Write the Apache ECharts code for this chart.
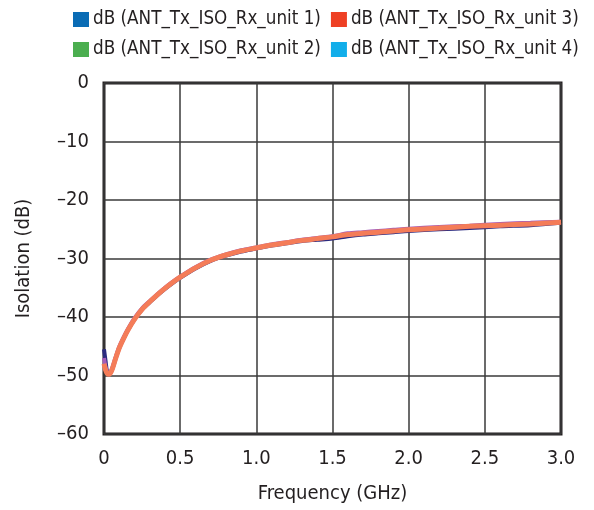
<!DOCTYPE html>
<html>
<head>
<meta charset="utf-8">
<script src="https://cdn.jsdelivr.net/npm/echarts@6/dist/echarts.min.js"></script>
<style>html,body{margin:0;padding:0;background:#fff;}#c{width:594px;height:510px;}</style>
</head>
<body>
<div id="c"></div>
<script>
const freq = [0, 0.01, 0.02, 0.033, 0.05, 0.075, 0.1, 0.13, 0.16, 0.2, 0.25, 0.3, 0.35, 0.4, 0.45, 0.5, 0.6, 0.7, 0.8, 0.9, 1.0, 1.1, 1.2, 1.3, 1.4, 1.5, 1.6, 1.7, 1.8, 1.9, 2.0, 2.2, 2.4, 2.6, 2.8, 3.0];
const unit1 = [-45.5, -47.5, -49.3, -49.8, -49.2, -47.2, -45.3, -43.6, -42.1, -40.4, -38.7, -37.5, -36.3, -35.2, -34.2, -33.3, -31.7, -30.4, -29.5, -28.8, -28.3, -27.8, -27.4, -27.0, -26.8, -26.6, -26.2, -25.9, -25.7, -25.5, -25.3, -25.0, -24.8, -24.5, -24.3, -23.9];
const unit2 = [-47.0, -48.5, -49.5, -49.8, -49.0, -47.0, -45.1, -43.4, -41.9, -40.2, -38.5, -37.3, -36.1, -35.0, -34.0, -33.1, -31.5, -30.2, -29.3, -28.6, -28.1, -27.6, -27.2, -26.8, -26.5, -26.2, -25.7, -25.5, -25.3, -25.1, -24.9, -24.6, -24.4, -24.1, -23.9, -23.7];
const unit3 = [-48.0, -49.0, -49.6, -49.8, -49.2, -47.2, -45.3, -43.6, -42.1, -40.4, -38.7, -37.4, -36.2, -35.1, -34.1, -33.2, -31.6, -30.3, -29.4, -28.7, -28.2, -27.7, -27.3, -26.9, -26.6, -26.3, -25.9, -25.7, -25.5, -25.3, -25.1, -24.8, -24.5, -24.3, -24.1, -23.8];
const unit4 = [-48.0, -49.0, -49.6, -49.8, -49.2, -47.2, -45.3, -43.6, -42.1, -40.4, -38.7, -37.4, -36.2, -35.1, -34.1, -33.2, -31.6, -30.3, -29.4, -28.7, -28.2, -27.7, -27.3, -26.9, -26.6, -26.3, -25.9, -25.7, -25.5, -25.3, -25.1, -24.8, -24.5, -24.3, -24.1, -23.8];
const names = ['dB (ANT_Tx_ISO_Rx_unit 1)', 'dB (ANT_Tx_ISO_Rx_unit 2)', 'dB (ANT_Tx_ISO_Rx_unit 3)', 'dB (ANT_Tx_ISO_Rx_unit 4)'];
const xTicks = ['0', '0.5', '1.0', '1.5', '2.0', '2.5', '3.0'];

const FONT = "'Liberation Sans Narrow', 'DejaVu Sans Condensed', sans-serif";
const TXT = '#231f20';
function pairs(ys) { return freq.map((f, i) => [f, ys[i]]); }

const chart = echarts.init(document.getElementById('c'), null, {renderer: 'canvas'});
const legendCommon = {
  icon: 'rect', itemWidth: 16, itemHeight: 15, itemGap: 10,
  orient: 'horizontal', left: 68,
  textStyle: {fontFamily: FONT, fontSize: 18.7, lineHeight: 15, color: TXT, padding: [0, 0, 0, -1]}
};
chart.setOption({
  animation: false,
  backgroundColor: '#fff',
  legend: [
    Object.assign({}, legendCommon, {top: 5, data: [names[0], names[2]]}),
    Object.assign({}, legendCommon, {top: 35, data: [names[1], names[3]]})
  ],
  grid: {left: 104, right: 33, top: 83, bottom: 76, show: true, borderColor: TXT, borderWidth: 3, backgroundColor: 'transparent'},
  xAxis: {
    type: 'value', min: 0, max: 3, interval: 0.5,
    name: 'Frequency (GHz)', nameLocation: 'middle', nameGap: 50,
    nameTextStyle: {fontFamily: FONT, fontSize: 20, color: TXT},
    axisLine: {show: false},
    axisTick: {show: false},
    splitLine: {show: true, lineStyle: {color: '#3a3a3a', width: 1.5}},
    axisLabel: {fontFamily: FONT, fontSize: 20, color: TXT, margin: 15,
      formatter: v => xTicks[Math.round(v / 0.5)]}
  },
  yAxis: {
    type: 'value', min: -60, max: 0, interval: 10,
    name: 'Isolation (dB)', nameLocation: 'middle', nameGap: 70, nameRotate: 90,
    nameTextStyle: {fontFamily: FONT, fontSize: 20, color: TXT},
    axisLine: {show: false},
    axisTick: {show: false},
    splitLine: {show: true, lineStyle: {color: '#3a3a3a', width: 1.5}},
    axisLabel: {fontFamily: FONT, fontSize: 20, color: TXT, margin: 15,
      formatter: v => v < 0 ? '\u2013' + Math.abs(v) : String(v)}
  },
  series: [
    {name: names[0], type: 'line', data: pairs(unit1), showSymbol: false, smooth: 0.3, z: 2,
      itemStyle: {color: '#0a6cb5'}, lineStyle: {color: '#2b2b80', width: 4}},
    {name: names[1], type: 'line', data: pairs(unit2), showSymbol: false, smooth: 0.3, z: 3,
      itemStyle: {color: '#4bae4f'}, lineStyle: {color: '#a45cb8', width: 4}},
    {name: names[3], type: 'line', data: pairs(unit4), showSymbol: false, smooth: 0.3, z: 4,
      itemStyle: {color: '#12aeea'}, lineStyle: {color: '#c06aa0', width: 4}},
    {name: names[2], type: 'line', data: pairs(unit3), showSymbol: false, smooth: 0.3, z: 5,
      itemStyle: {color: '#ee4024'}, lineStyle: {color: '#f47c58', width: 5}}
  ]
});
</script>
</body>
</html>
